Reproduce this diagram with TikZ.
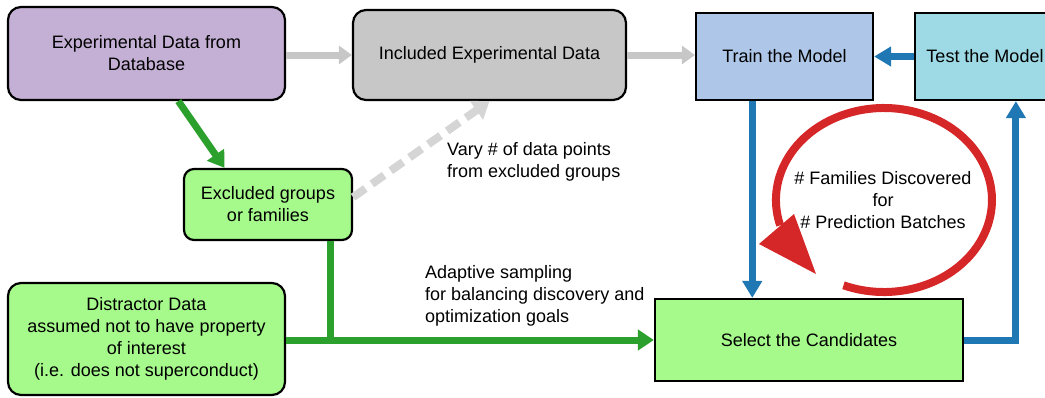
\documentclass[tikz,border=0pt]{standalone}
\usepackage{fontspec}
\setmainfont{Liberation Sans}
\usetikzlibrary{arrows.meta,calc}
\definecolor{cpurple}{HTML}{C5B0D5}
\definecolor{cgray}{HTML}{C7C7C7}
\definecolor{ctrain}{HTML}{AEC7E8}
\definecolor{ctest}{HTML}{9EDAE5}
\definecolor{cgreenbox}{HTML}{A6FA8C}
\definecolor{cgreen}{HTML}{2CA02C}
\definecolor{cblue}{HTML}{1F77B4}
\definecolor{cred}{HTML}{D62728}
\begin{document}
\begin{tikzpicture}[x=1pt,y=-1pt,
  every node/.style={font=\fontsize{18}{22}\selectfont, align=center, inner sep=0pt},
  box/.style={draw=black, line width=2.2pt},
  rbox/.style={box, rounded corners=13pt},
  lbl/.style={align=left},
  grayarrow/.style={draw=cgray, line width=7pt, -{Triangle[length=13pt,width=18pt]}},
  greenarrow/.style={draw=cgreen, line width=7pt, -{Triangle[length=16pt,width=20pt]}},
  greenline/.style={draw=cgreen, line width=7pt},
  bluearrow/.style={draw=cblue, line width=7pt, -{Triangle[length=17pt,width=19pt]}},
  dashedarrow/.style={draw=cgray!75, line width=8pt, dash pattern=on 15pt off 8pt, -{Triangle[length=16pt,width=22pt]}}
]
\useasboundingbox (0,0) rectangle (1045,397);

% nodes
\node[rbox, fill=cpurple, minimum width=277pt, minimum height=93pt] (exp) at (146.5,53.5) {Experimental Data from\\Database};
\node[rbox, fill=cgray, minimum width=273pt, minimum height=90pt] (inc) at (489.5,55) {Included Experimental Data};
\node[box, fill=ctrain, minimum width=177pt, minimum height=87pt] (train) at (784.5,56.5) {Train the Model};
\node[box, fill=ctest, minimum width=140pt, minimum height=87pt] (test) at (985,56.5) {Test the Model};
\node[rbox, rounded corners=10pt, fill=cgreenbox, minimum width=168pt, minimum height=71pt] (excl) at (268,204.5) {Excluded groups\\or families};
\node[rbox, fill=cgreenbox, minimum width=277pt, minimum height=112pt] (dist) at (146.5,339) {Distractor Data\\assumed not to have property\\of interest\\(i.e. does not superconduct)};
\node[box, fill=cgreenbox, minimum width=308pt, minimum height=82pt] (sel) at (809,340) {Select the Candidates};

% labels
\node[lbl, anchor=west] (vary) at (447,162) {Vary \# of data points\\from excluded groups};
\node[lbl, anchor=west] (adapt) at (425,296) {Adaptive sampling\\for balancing discovery and\\optimization goals};
\node (fam) at (883,200) {\# Families Discovered\\for\\\# Prediction Batches};

% gray connectors
\draw[grayarrow] (exp.east |- inc.west) -- (inc.west);
\draw[grayarrow] (inc.east) -- (inc.east -| train.west);
\draw[dashedarrow] ($(excl.north east)!0.4!(excl.south east)$) -- (inc.south);

% green connectors
\draw[greenarrow] ($(exp.south west)!0.614!(exp.south east)$) -- ($(excl.north west)!0.245!(excl.north east)$);
\draw[greenline] ($(excl.south west)!0.87!(excl.south east)$) coordinate (gv) -- (gv |- sel.west);
\draw[greenarrow] (dist.east |- sel.west) -- (sel.west);

% blue connectors
\draw[bluearrow] (test.west) -- (train.east);
\draw[bluearrow] ($(train.south west)!0.32!(train.south east)$) coordinate (tb) -- (tb |- sel.north);
\draw[bluearrow] (sel.east) -| ($(test.south west)+(102,0)$);

% red loop
\draw[cred, line width=8pt] (843.5,285.3) arc[start angle=248, end angle=556, x radius=108pt, y radius=92pt];
\fill[cred] (759,244) -- (794,214) -- (816,274) -- cycle;
\end{tikzpicture}
\end{document}
